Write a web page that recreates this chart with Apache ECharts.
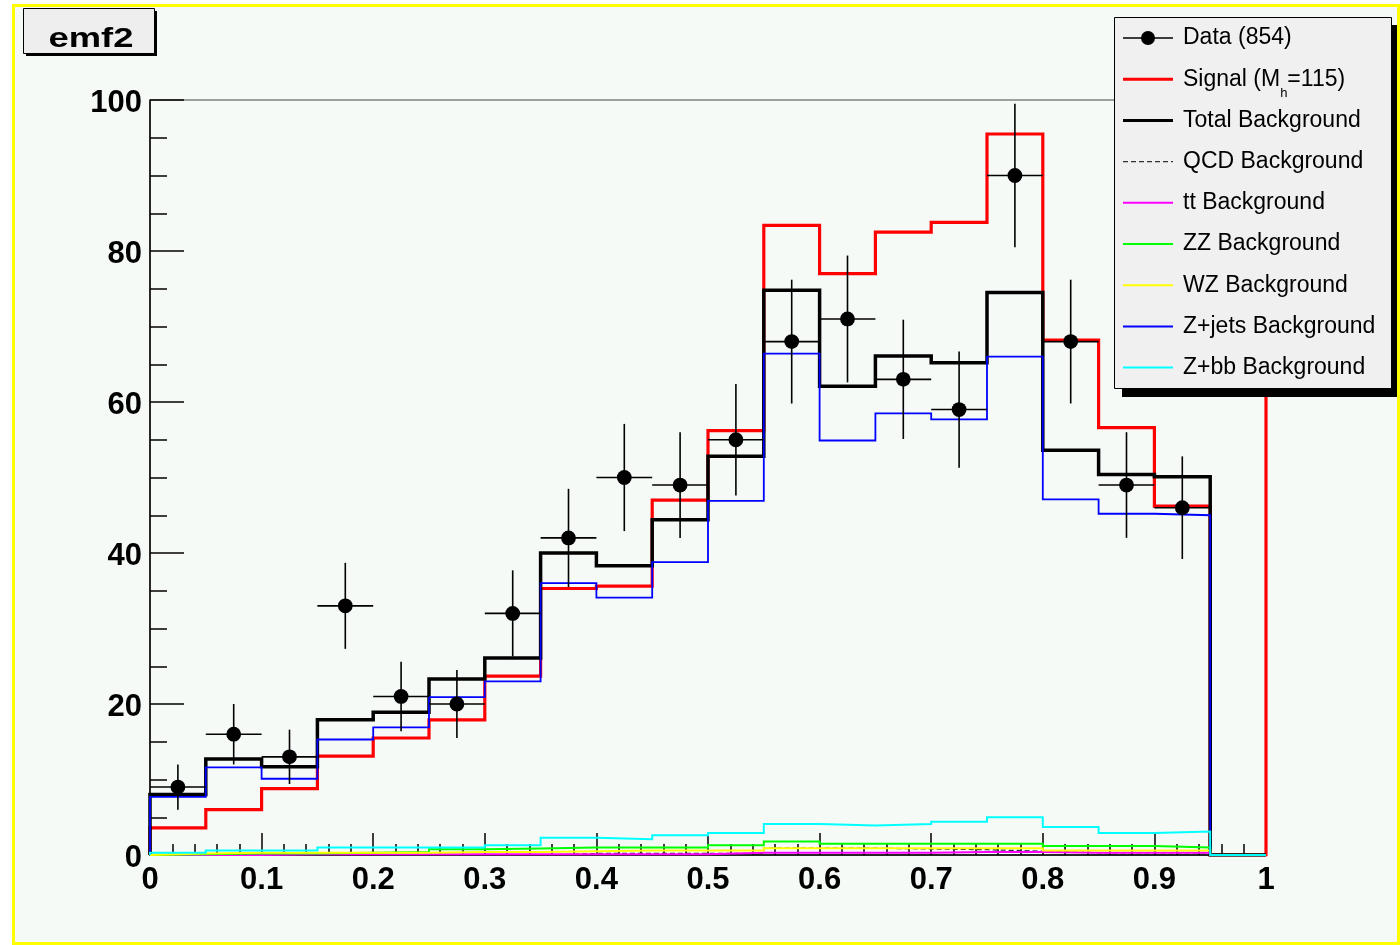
<!DOCTYPE html>
<html><head><meta charset="utf-8">
<script src="https://cdn.jsdelivr.net/npm/echarts@6/dist/echarts.min.js"></script>
<style>
html,body{margin:0;padding:0;background:#ffffff;}
#frame{position:absolute;left:12px;top:4px;width:1388px;height:941px;box-sizing:border-box;border:3px solid #ffff00;background:#f6faf7;}
#chart{position:absolute;left:0;top:0;width:1400px;height:945px;}
</style></head>
<body><div id="frame"></div><div id="chart"></div>
<script>
// ---- data ----
const binEdges = [0, 0.05, 0.1, 0.15, 0.2, 0.25, 0.3, 0.35, 0.4, 0.45, 0.5, 0.55, 0.6, 0.65, 0.7, 0.75, 0.8, 0.85, 0.9, 0.95, 1.0];
const xTickLabels = ['0', '0.1', '0.2', '0.3', '0.4', '0.5', '0.6', '0.7', '0.8', '0.9', '1'];
const yTickLabels = ['0', '20', '40', '60', '80', '100'];
const dataCounts = [9, 16, 13, 33, 21, 20, 32, 42, 50, 49, 55, 68, 71, 63, 59, 90, 68, 49, 46];
const dataErrors = [3.0, 4.0, 3.6, 5.7, 4.6, 4.5, 5.7, 6.5, 7.1, 7.0, 7.4, 8.2, 8.4, 7.9, 7.7, 9.5, 8.2, 7.0, 6.8];
const signal = [3.6, 6.0, 8.8, 13.1, 15.5, 17.9, 23.7, 35.3, 35.6, 47.0, 56.2, 83.4, 77.0, 82.5, 83.8, 95.5, 68.2, 56.6, 46.2, 0];
const signalOverflow = 110;
const totalBkg = [8.0, 12.7, 11.7, 17.9, 18.9, 23.3, 26.1, 40.0, 38.3, 44.4, 52.8, 74.8, 62.1, 66.1, 65.2, 74.5, 53.6, 50.4, 50.1, 0];
const qcdBkg = [0, 0, 0, 0, 0, 0, 0, 0.2, 0.2, 0.2, 0.2, 0.9, 0.9, 0.8, 0.7, 0.5, 0.3, 0.3, 0.3, 0];
const ttBkg = [0, 0, 0.1, 0.1, 0.1, 0.1, 0.1, 0.1, 0.1, 0.1, 0.3, 0.3, 0.3, 0.3, 0.4, 0.4, 0.3, 0.3, 0.3, 0];
const zzBkg = [0.1, 0.2, 0.2, 0.3, 0.4, 0.75, 0.85, 1.0, 1.0, 1.0, 1.3, 1.8, 1.5, 1.5, 1.5, 1.5, 1.2, 1.2, 1.0, 0];
const wzBkg = [0.2, 0.3, 0.3, 0.3, 0.3, 0.4, 0.4, 0.5, 0.6, 0.6, 0.6, 0.9, 0.9, 0.9, 0.9, 0.9, 0.6, 0.6, 0.6, 0];
const zjetsBkg = [7.7, 11.6, 10.1, 15.3, 16.9, 20.9, 23.0, 36.0, 34.1, 38.8, 46.9, 66.4, 54.9, 58.5, 57.7, 66.0, 47.1, 45.2, 45.0, 0];
const zbbBkg = [0.3, 0.6, 0.6, 1.0, 1.0, 1.0, 1.3, 2.3, 2.1, 2.6, 2.9, 4.1, 3.9, 4.1, 4.4, 5.0, 3.7, 2.9, 3.1, 0];
const seriesNames = ['Data (854)', 'Signal (Mh=115)', 'Total Background', 'QCD Background', 'tt Background', 'ZZ Background', 'WZ Background', 'Z+jets Background', 'Z+bb Background'];
const titleText = 'emf2';

// ---- helpers ----
function stepPoints(vals, overflow) {
  const pts = [[binEdges[0], 0]];
  vals.forEach(function (v, i) { pts.push([binEdges[i], v]); pts.push([binEdges[i + 1], v]); });
  pts.push([binEdges[binEdges.length - 1], overflow === undefined ? 0 : overflow]);
  return pts;
}
function lineIcon(th) { return 'path://M0,0L50,0L50,' + th + 'L0,' + th + 'Z'; }
function dashIcon() {
  let p = 'path://';
  for (let x = 0; x < 50; x += 8) { const e = Math.min(x + 5, 50); p += 'M' + x + ',0L' + e + ',0L' + e + ',1.4L' + x + ',1.4Z'; }
  return p;
}
const dataIcon = 'path://M0,6.25L50,6.25L50,7.75L0,7.75Z M25,0A7,7 0 1 1 25,14A7,7 0 1 1 25,0Z';
const FONT = 'Liberation Sans';

function histSeries(name, vals, color, width, extra) {
  return Object.assign({
    type: 'line', name: name, data: stepPoints(vals), symbol: 'none', silent: true, clip: true,
    itemStyle: { color: color },
    lineStyle: { color: color, width: width, join: 'miter', cap: 'butt' },
    z: 2, animation: false
  }, extra || {});
}

const series = [
  histSeries(seriesNames[1], signal, '#ff0000', 3.2, { data: stepPoints(signal, signalOverflow) }),
  histSeries(seriesNames[2], totalBkg, '#000000', 3.5),
  histSeries(seriesNames[3], qcdBkg, '#333333', 1.3, { lineStyle: { color: '#333333', width: 1.3, type: [5, 3] } }),
  histSeries(seriesNames[4], ttBkg, '#ff00ff', 2),
  histSeries(seriesNames[5], zzBkg, '#00ff00', 2),
  histSeries(seriesNames[6], wzBkg, '#ffff00', 2),
  histSeries(seriesNames[7], zjetsBkg, '#0000ff', 1.8),
  histSeries(seriesNames[8], zbbBkg, '#00ffff', 2),
  {
    type: 'custom', name: seriesNames[0], z: 3, silent: true, animation: false,
    itemStyle: { color: '#000000' },
    encode: { x: 0, y: 1 },
    data: dataCounts.map(function (c, i) {
      return [(binEdges[i] + binEdges[i + 1]) / 2, c, dataErrors[i], binEdges[i], binEdges[i + 1]];
    }),
    renderItem: function (params, api) {
      const x = api.value(0), y = api.value(1), e = api.value(2), x0 = api.value(3), x1 = api.value(4);
      const c = api.coord([x, y]), t = api.coord([x, y + e]), b = api.coord([x, y - e]);
      const l = api.coord([x0, y]), r = api.coord([x1, y]);
      return {
        type: 'group', children: [
          { type: 'line', shape: { x1: b[0], y1: b[1], x2: t[0], y2: t[1] }, style: { stroke: '#000', lineWidth: 1.6 } },
          { type: 'line', shape: { x1: l[0], y1: l[1], x2: r[0], y2: r[1] }, style: { stroke: '#000', lineWidth: 1.6 } },
          { type: 'circle', shape: { cx: c[0], cy: c[1], r: 7.4 }, style: { fill: '#000' } }
        ]
      };
    }
  }
];

const legendIcons = [dataIcon, lineIcon(3), lineIcon(3), dashIcon(), lineIcon(2), lineIcon(2), lineIcon(2), lineIcon(2), lineIcon(2)];

const chart = echarts.init(document.getElementById('chart'), null, { renderer: 'canvas' });
chart.setOption({
  animation: false,
  backgroundColor: 'transparent',
  textStyle: { fontFamily: FONT },
  grid: { left: 150, top: 100, width: 1116, height: 755, show: true, borderColor: '#444', borderWidth: 1, backgroundColor: 'transparent', outerBoundsMode: 'none', containLabel: false },
  xAxis: {
    type: 'value', min: 0, max: 1, interval: 0.1,
    axisLine: { show: true, onZero: false, lineStyle: { color: '#000', width: 1.5 } },
    axisTick: { show: true, inside: true, length: 22, lineStyle: { color: '#000', width: 1.5 } },
    minorTick: { show: true, splitNumber: 5, length: 11, lineStyle: { color: '#000', width: 1.5 } },
    splitLine: { show: false }, minorSplitLine: { show: false },
    axisLabel: {
      margin: 10, color: '#000', fontFamily: FONT, fontWeight: 'bold', fontSize: 31,
      formatter: function (v) { return xTickLabels[Math.round(v * 10)]; }
    }
  },
  yAxis: {
    type: 'value', min: 0, max: 100, interval: 20,
    axisLine: { show: true, onZero: false, lineStyle: { color: '#000', width: 1.5 } },
    axisTick: { show: true, inside: true, length: 34, lineStyle: { color: '#000', width: 1.5 } },
    minorTick: { show: true, splitNumber: 4, length: 17, lineStyle: { color: '#000', width: 1.5 } },
    splitLine: { show: false }, minorSplitLine: { show: false },
    axisLabel: {
      margin: 8, color: '#000', fontFamily: FONT, fontWeight: 'bold', fontSize: 31,
      formatter: function (v) { return '{v|' + yTickLabels[Math.round(v / 20)] + '}'; },
      rich: { v: { color: '#000', fontFamily: FONT, fontWeight: 'bold', fontSize: 31, padding: [6, 0, 0, 0] } }
    }
  },
  legend: {
    show: true, orient: 'vertical', left: 1123, top: 20.5, padding: 0, itemGap: 3.2,
    itemWidth: 50, itemHeight: 14, selectedMode: false, z: 8,
    backgroundColor: 'transparent',
    itemStyle: { borderWidth: 0 },
    data: seriesNames.map(function (n, i) { return { name: n, icon: legendIcons[i] }; }),
    formatter: function (name) {
      if (name === seriesNames[1]) return '{a|Signal (M}{b|h}{a|=115)}';
      return '{a|' + name + '}{b| }';
    },
    textStyle: {
      color: '#000', fontFamily: FONT, fontSize: 23, lineHeight: 35, padding: [0, 0, 0, 5],
      rich: {
        a: { color: '#000', fontFamily: FONT, fontSize: 23, lineHeight: 35, verticalAlign: 'middle' },
        b: { color: '#000', fontFamily: FONT, fontSize: 13, lineHeight: 7, padding: [25, 0, 0, 0], verticalAlign: 'top' }
      }
    }
  },
  graphic: {
    elements: [
      { type: 'rect', z: 6, silent: true, shape: { x: 1122, y: 25, width: 275, height: 372 }, style: { fill: '#000' } },
      { type: 'rect', z: 7, silent: true, shape: { x: 1114.5, y: 17.5, width: 277, height: 371 }, style: { fill: '#f0f0f0', stroke: '#000', lineWidth: 1 } },
      { type: 'rect', z: 6, silent: true, shape: { x: 26, y: 11, width: 131, height: 45 }, style: { fill: '#000' } },
      { type: 'rect', z: 7, silent: true, shape: { x: 23.5, y: 8.5, width: 131, height: 45 }, style: { fill: '#eeeeee', stroke: '#000', lineWidth: 1 } },
      { type: 'text', z: 8, silent: true, x: 91, y: 39, scaleX: 1.3, style: { text: titleText, font: 'bold 28px "Liberation Sans"', fill: '#000', align: 'center', verticalAlign: 'middle' } }
    ]
  },
  series: series
});
</script>
</body></html>
